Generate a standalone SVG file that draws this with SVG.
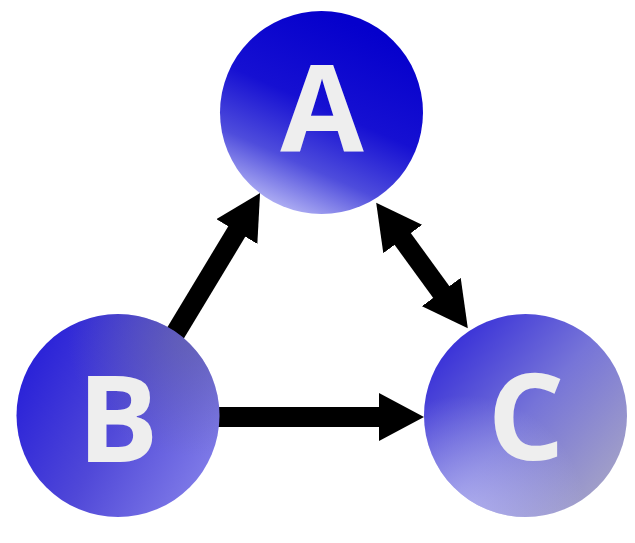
<svg xmlns="http://www.w3.org/2000/svg" width="635" height="543" viewBox="0 0 635 543">
<defs>
<style>
.edge{stroke:#000;stroke-width:20;fill:none}
.lbl{font-family:"Open Sans","DejaVu Sans",sans-serif;font-weight:bold;font-size:121px;fill:#eeeeee;text-anchor:middle}
</style>
<marker id="head" markerUnits="userSpaceOnUse" viewBox="0 -24 46 48" markerWidth="46" markerHeight="48" refX="1" refY="0" orient="auto-start-reverse">
<path d="M0,-24 L45,0 L0,24 z" fill="#000"/>
</marker>
<linearGradient id="gA" x1="0.75" y1="0.1" x2="0.35" y2="1">
<stop offset="0" stop-color="#0500cc"/>
<stop offset="0.45" stop-color="#1610d2"/>
<stop offset="0.75" stop-color="#4e4cdc"/>
<stop offset="1" stop-color="#b2b2f4"/>
</linearGradient>
<linearGradient id="gB" x1="0" y1="0.3" x2="0.95" y2="0.8">
<stop offset="0" stop-color="#2820d8"/>
<stop offset="0.5" stop-color="#5048d8"/>
<stop offset="1" stop-color="#807ce8"/>
</linearGradient>
<radialGradient id="gB2" cx="0.85" cy="0.1" r="0.6">
<stop offset="0" stop-color="#6a6a9a" stop-opacity="0.55"/>
<stop offset="1" stop-color="#6a6a9a" stop-opacity="0"/>
</radialGradient>
<linearGradient id="gC" x1="0.1" y1="0.15" x2="0.9" y2="0.85">
<stop offset="0" stop-color="#3830d8"/>
<stop offset="0.5" stop-color="#7674d8"/>
<stop offset="1" stop-color="#a2a0c8"/>
</linearGradient>
<radialGradient id="gC2" cx="0.2" cy="1" r="0.6">
<stop offset="0" stop-color="#d0d0ff" stop-opacity="0.6"/>
<stop offset="1" stop-color="#d0d0ff" stop-opacity="0"/>
</radialGradient>
</defs>
<g id="connectors">
<line class="edge" x1="170.9" y1="340.6" x2="237.3" y2="230.7" marker-end="url(#head)"/>
<line class="edge" x1="205" y1="417" x2="380" y2="417" marker-end="url(#head)"/>
<line class="edge" x1="402.1" y1="238.2" x2="441.9" y2="292.8" marker-start="url(#head)" marker-end="url(#head)"/>
</g>
<g id="A">
<circle cx="321.5" cy="112.5" r="101.5" fill="url(#gA)"/>
<text class="lbl" x="322" y="151">A</text>
</g>
<g id="B">
<circle cx="118" cy="415.5" r="101.5" fill="url(#gB)"/>
<circle cx="118" cy="415.5" r="101.5" fill="url(#gB2)"/>
<text class="lbl" x="118" y="462">B</text>
</g>
<g id="C">
<circle cx="525.5" cy="415.5" r="101.5" fill="url(#gC)"/>
<circle cx="525.5" cy="415.5" r="101.5" fill="url(#gC2)"/>
<text class="lbl" x="526" y="460">C</text>
</g>
</svg>
